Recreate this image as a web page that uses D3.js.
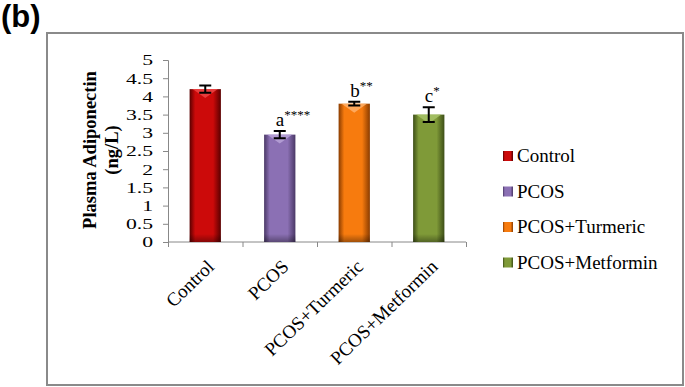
<!DOCTYPE html>
<html>
<head>
<meta charset="utf-8">
<script src="https://cdn.jsdelivr.net/npm/d3@7"></script>
<style>
  body { margin: 0; background: #fff; }
  svg { display: block; }
</style>
</head>
<body>
<div id="chart"></div>
<script>
// dati
var groups = ["Control", "PCOS", "PCOS+Turmeric", "PCOS+Metformin"];
var means = [4.2, 2.95, 3.8, 3.5];
var errs = [0.1, 0.1, 0.05, 0.2];
var sigLetters = ["", "a", "b", "c"];
var sigStars = ["", "****", "**", "*"];
var yTicks = [0, 0.5, 1, 1.5, 2, 2.5, 3, 3.5, 4, 4.5, 5];
var barColors = [
  {dark: "#5a0000", mid: "#cc0a0a", light: "#f04848"},
  {dark: "#4a3866", mid: "#8b70b4", light: "#baa6da"},
  {dark: "#8a3c00", mid: "#f77b0e", light: "#ffb470"},
  {dark: "#3d4e17", mid: "#7f9a38", light: "#aac66c"}
];

var W = 685, H = 387;
var svg = d3.select("#chart").append("svg")
  .attr("width", W)
  .attr("height", H);

// etichetta (b)
svg.append("text")
  .attr("x", 1)
  .attr("y", 27)
  .style("font-family", "Liberation Sans, Arial, sans-serif")
  .style("font-weight", "bold")
  .style("font-size", "31px")
  .text("(b)");

// cornice
svg.append("rect")
  .attr("x", 47)
  .attr("y", 33)
  .attr("width", 636)
  .attr("height", 352)
  .style("fill", "none")
  .style("stroke", "#8a8a8a")
  .style("stroke-width", 2);

var plot = {left: 168, right: 466, top: 60, bottom: 242};

var x = d3.scaleBand()
  .domain(groups)
  .range([plot.left, plot.right])
  .paddingInner(0.58)
  .paddingOuter(0.29);

var xIdx = d3.scaleLinear()
  .domain([0, groups.length])
  .range([plot.left, plot.right]);

var y = d3.scaleLinear()
  .domain([0, 5])
  .range([plot.bottom, plot.top]);

var serif = "Liberation Serif, Times New Roman, serif";

// gradienti
var defs = svg.append("defs");
barColors.forEach(function(c, i) {
  var g = defs.append("linearGradient")
    .attr("id", "grad" + i)
    .attr("x1", "0%").attr("x2", "100%")
    .attr("y1", "0%").attr("y2", "0%");
  g.append("stop").attr("offset", "0%").attr("stop-color", c.dark);
  g.append("stop").attr("offset", "18%").attr("stop-color", c.mid);
  g.append("stop").attr("offset", "45%").attr("stop-color", c.mid);
  g.append("stop").attr("offset", "75%").attr("stop-color", c.mid);
  g.append("stop").attr("offset", "100%").attr("stop-color", c.dark);
});
var shade = defs.append("linearGradient")
  .attr("id", "shadeBottom")
  .attr("x1", "0%").attr("x2", "0%")
  .attr("y1", "0%").attr("y2", "100%");
shade.append("stop").attr("offset", "0%").attr("stop-color", "#000").attr("stop-opacity", 0);
shade.append("stop").attr("offset", "100%").attr("stop-color", "#000").attr("stop-opacity", 0.35);

// Asse Y
var tickStretch = 1.4;
var yAxis = svg.append("g")
  .attr("transform", "translate(" + plot.left + ",0)")
  .call(d3.axisLeft(y).tickValues(yTicks).tickSize(5).tickPadding(10)
    .tickFormat(function(d) { return d3.format("")(d); }));
yAxis.selectAll("path, line").style("stroke", "#888");
yAxis.selectAll("text")
  .attr("x", -15 / tickStretch)
  .attr("transform", "scale(" + tickStretch + ",1)")
  .style("font-family", serif)
  .style("font-size", "15.5px")
  .style("fill", "#000");

// Asse X
var xAxis = svg.append("g")
  .attr("transform", "translate(0," + plot.bottom + ")")
  .call(d3.axisBottom(xIdx).tickValues(d3.range(groups.length + 1)).tickSize(5).tickSizeOuter(0)
    .tickFormat(""));
xAxis.selectAll("path, line").style("stroke", "#888");
xAxis.select(".domain").attr("d", "M" + plot.left + ",0H" + plot.right);

// etichette categorie
svg.selectAll(".xlab")
  .data(groups)
  .enter()
  .append("text")
    .attr("class", "xlab")
    .attr("text-anchor", "end")
    .attr("transform", function(d) {
      var cx = x(d) + x.bandwidth() / 2 + 10;
      return "translate(" + cx + "," + (plot.bottom + 26) + ") rotate(-44)";
    })
    .style("font-family", serif)
    .style("font-size", "19px")
    .text(function(d) { return d; });

// barre
var bars = svg.selectAll(".bar")
  .data(groups)
  .enter()
  .append("g")
    .attr("class", "bar");

bars.append("rect")
  .attr("x", function(d) { return x(d); })
  .attr("y", function(d, i) { return y(means[i]); })
  .attr("width", x.bandwidth())
  .attr("height", function(d, i) { return y(0) - y(means[i]); })
  .style("fill", function(d, i) { return "url(#grad" + i + ")"; });

// ombra in basso
bars.append("rect")
  .attr("x", function(d) { return x(d); })
  .attr("y", function(d, i) { return y(0) - 8; })
  .attr("width", x.bandwidth())
  .attr("height", 8)
  .style("fill", "url(#shadeBottom)");

// riflesso in alto (forma a V)
bars.append("path")
  .attr("d", function(d, i) {
    var x0 = x(d), bw = x.bandwidth(), top = y(means[i]);
    return "M" + (x0 + 3) + "," + top +
      "L" + (x0 + bw - 3) + "," + top +
      "L" + (x0 + bw / 2) + "," + (top + 9) + "Z";
  })
  .style("fill", function(d, i) { return barColors[i].light; })
  .style("opacity", 0.8);

// barre di errore
var cap = 6;
bars.append("path")
  .attr("d", function(d, i) {
    var cx = x(d) + x.bandwidth() / 2;
    var y1 = y(means[i] + errs[i]), y2 = y(means[i] - errs[i]);
    return "M" + (cx - cap) + "," + y1 + "H" + (cx + cap) +
      "M" + cx + "," + y1 + "V" + y2 +
      "M" + (cx - cap) + "," + y2 + "H" + (cx + cap);
  })
  .style("stroke", "#000")
  .style("stroke-width", 2)
  .style("fill", "none");

// lettere di significatività
var sig = bars.filter(function(d, i) { return sigLetters[i] !== ""; })
  .append("text")
    .attr("x", function(d) { return x(d) + x.bandwidth() / 2 - 4; })
    .attr("y", function(d) { var i = groups.indexOf(d); return y(means[i] + errs[i]) - 5; })
    .style("font-family", serif)
    .style("font-size", "19px");
sig.append("tspan")
  .text(function(d) { return sigLetters[groups.indexOf(d)]; });
sig.append("tspan")
  .attr("dy", -7)
  .style("font-size", "13px")
  .text(function(d) { return sigStars[groups.indexOf(d)]; });

// titolo asse Y
var yTitle = svg.append("text")
  .attr("transform", "translate(96,150) rotate(-90)")
  .attr("text-anchor", "middle")
  .style("font-family", serif)
  .style("font-weight", "bold")
  .style("font-size", "18.5px");
yTitle.append("tspan").attr("x", 0).attr("dy", 0).text("Plasma Adiponectin");
yTitle.append("tspan").attr("x", 0).attr("dy", 22).text("(ng/L)");

// legenda
var legend = svg.selectAll(".leg")
  .data(groups)
  .enter()
  .append("g")
    .attr("class", "leg")
    .attr("transform", function(d, i) { return "translate(503," + (162 + i * 35.5) + ")"; });
legend.append("rect")
  .attr("x", 0)
  .attr("y", -11)
  .attr("width", 10)
  .attr("height", 10)
  .style("fill", function(d, i) { return "url(#grad" + i + ")"; });
legend.append("text")
  .attr("x", 14)
  .attr("y", 0)
  .style("font-family", serif)
  .style("font-size", "19px")
  .text(function(d) { return d; });
</script>
</body>
</html>
